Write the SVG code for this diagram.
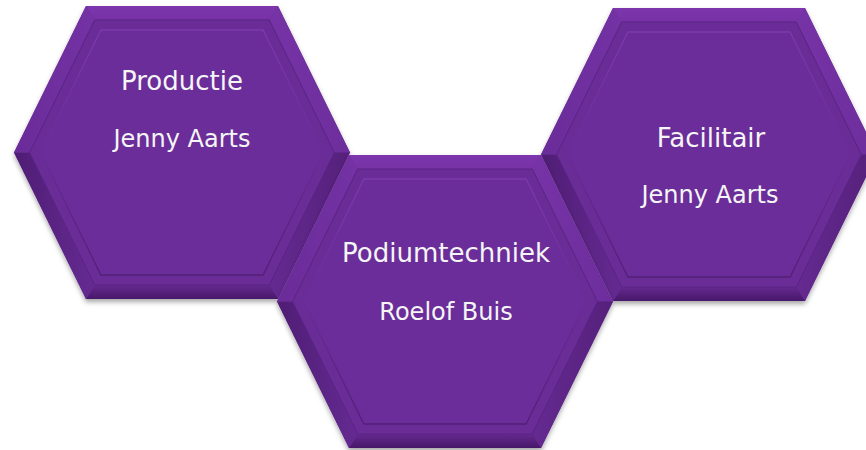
<svg xmlns="http://www.w3.org/2000/svg" width="866" height="450" viewBox="0 0 866 450">
  <defs>
    <filter id="shadow" x="-10%" y="-10%" width="120%" height="125%">
      <feDropShadow dx="0" dy="3" stdDeviation="2.5" flood-color="#000" flood-opacity="0.35"/>
    </filter>
    <linearGradient id="gTop" x1="0" y1="0" x2="0" y2="1">
      <stop offset="0" stop-color="#7d36ad"/>
      <stop offset="1" stop-color="#7632a5"/>
    </linearGradient>
    <linearGradient id="gBottom" x1="0" y1="0" x2="0" y2="1">
      <stop offset="0" stop-color="#66298f"/>
      <stop offset="1" stop-color="#46186a"/>
    </linearGradient>
    <linearGradient id="gUL" x1="0" y1="0" x2="1" y2="0">
      <stop offset="0" stop-color="#6a2c99"/>
      <stop offset="1" stop-color="#7432a4"/>
    </linearGradient>
    <linearGradient id="gLL" x1="0" y1="0" x2="1" y2="0">
      <stop offset="0" stop-color="#4f1d74"/>
      <stop offset="1" stop-color="#652a92"/>
    </linearGradient>
    <linearGradient id="gUR" x1="0" y1="0" x2="1" y2="0">
      <stop offset="0" stop-color="#7633a6"/>
      <stop offset="1" stop-color="#6d2e9c"/>
    </linearGradient>
    <linearGradient id="gLR" x1="0" y1="0" x2="1" y2="0">
      <stop offset="0" stop-color="#652a91"/>
      <stop offset="1" stop-color="#55207b"/>
    </linearGradient>
    <linearGradient id="gLine" x1="0" y1="0" x2="0" y2="1">
      <stop offset="0" stop-color="#7b3aab"/>
      <stop offset="0.5" stop-color="#6a2c98"/>
      <stop offset="1" stop-color="#521f77"/>
    </linearGradient>
    <g id="hex">
      <polygon points="-168,0 -96,-146.5 96,-146.5 168,0 96,146.5 -96,146.5" fill="#6a2c97" filter="url(#shadow)"/>
      <polygon points="-96,-146.5 96,-146.5 87.3,-132.5 -87.3,-132.5" fill="url(#gTop)"/>
      <polygon points="96,-146.5 168,0 152.4,0 87.3,-132.5" fill="url(#gUR)"/>
      <polygon points="168,0 96,146.5 87.3,132.5 152.4,0" fill="url(#gLR)"/>
      <polygon points="96,146.5 -96,146.5 -87.3,132.5 87.3,132.5" fill="url(#gBottom)"/>
      <polygon points="-96,146.5 -168,0 -152.4,0 -87.3,132.5" fill="url(#gLL)"/>
      <polygon points="-168,0 -96,-146.5 -87.3,-132.5 -152.4,0" fill="url(#gUL)"/>
      <polygon points="-152.4,0 -87.3,-132.5 87.3,-132.5 152.4,0 87.3,132.5 -87.3,132.5" fill="#6a2c97" stroke="#5a2484" stroke-width="1"/>
      <polygon points="-141.3,0 -81.1,-122.5 81.1,-122.5 141.3,0 81.1,122.5 -81.1,122.5" fill="#6b2d99" stroke="url(#gLine)" stroke-width="1.3"/>
    </g>
    <style>
      .t1 { font-family: "DejaVu Sans", Verdana, sans-serif; font-size: 26px; fill: #f5f5f5; text-anchor: middle; }
      .t2 { font-family: "DejaVu Sans", Verdana, sans-serif; font-size: 24px; fill: #f5f5f5; text-anchor: middle; }
    </style>
  </defs>
  <rect width="866" height="450" fill="#ffffff"/>
  <g id="connectors"/>
  <g id="node-productie">
    <use href="#hex" transform="translate(182,152.5)"/>
    <text class="t1" x="182" y="90">Productie</text>
    <text class="t2" x="182" y="147">Jenny Aarts</text>
  </g>
  <g id="node-facilitair">
    <use href="#hex" transform="translate(709,154.5)"/>
    <text class="t1" x="711" y="147">Facilitair</text>
    <text class="t2" x="710" y="203">Jenny Aarts</text>
  </g>
  <g id="node-podiumtechniek">
    <use href="#hex" transform="translate(445,301.5)"/>
    <text class="t1" x="446" y="262">Podiumtechniek</text>
    <text class="t2" x="446" y="320">Roelof Buis</text>
  </g>
</svg>
